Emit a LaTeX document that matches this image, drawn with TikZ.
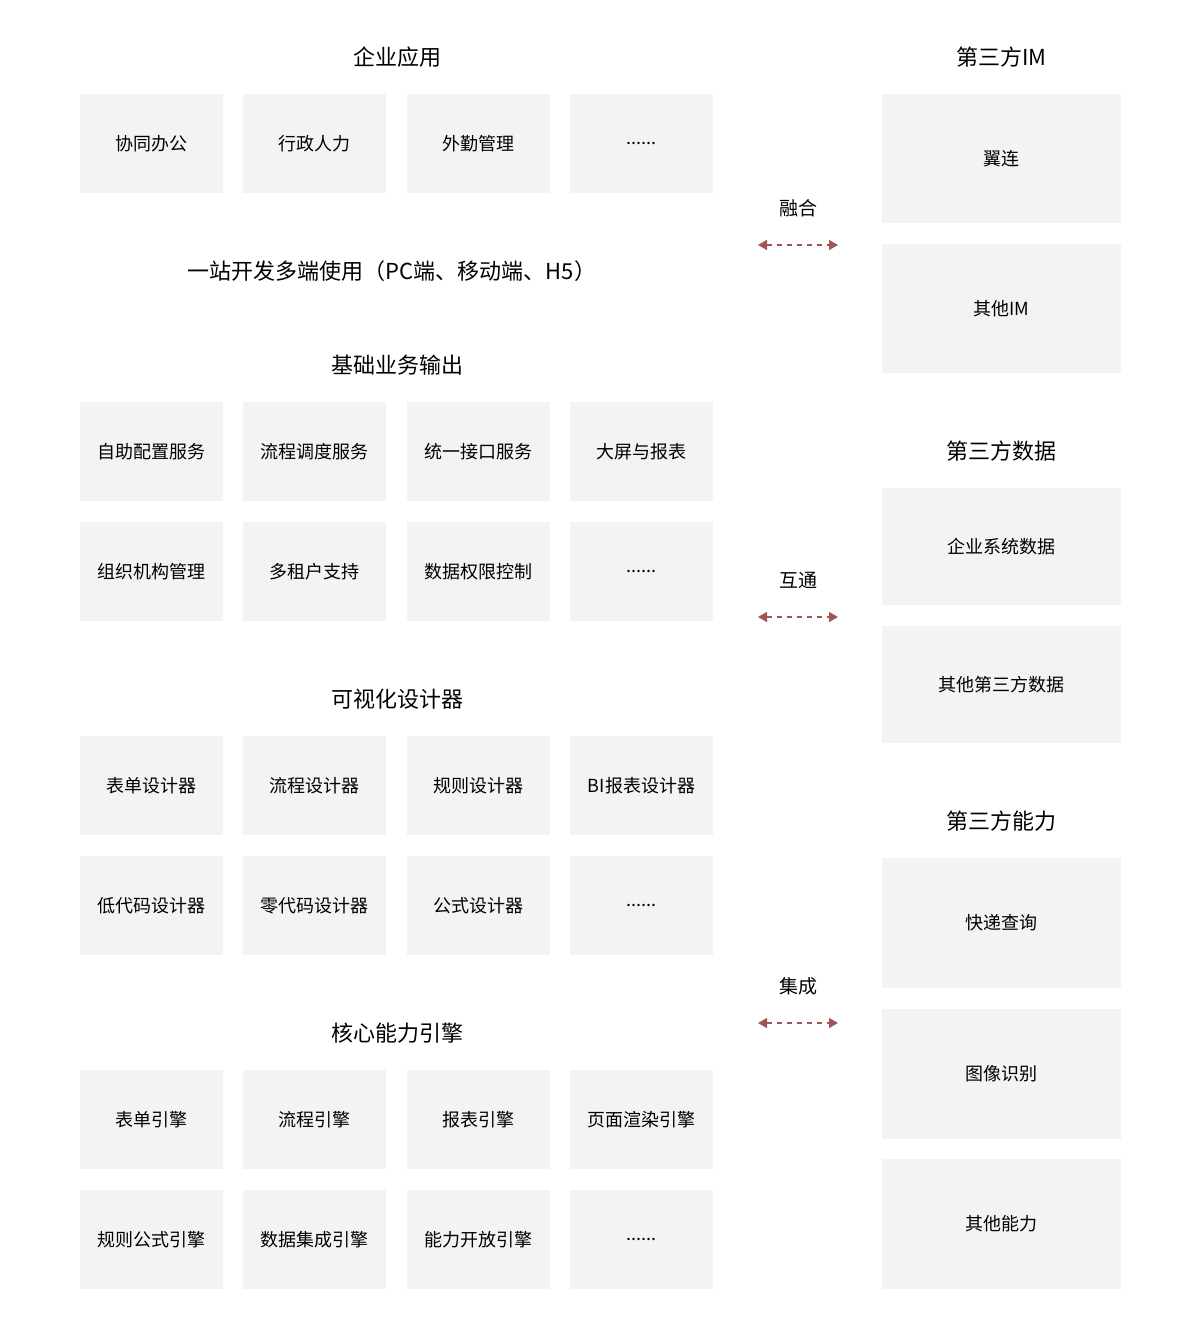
\documentclass[tikz,border=0pt]{standalone}
\usepackage{fontspec}
\setmainfont{Noto Sans CJK SC}
\usetikzlibrary{arrows.meta}
\definecolor{boxc}{HTML}{F3F3F3}
\definecolor{arrc}{HTML}{A05656}
\begin{document}
\begin{tikzpicture}[x=0.5pt,y=-0.5pt,
  bx/.style={fill=boxc,draw=none,inner sep=0pt,font=\fontsize{9}{11}\selectfont},
  ttl/.style={font=\fontsize{11}{13}\selectfont,inner sep=0pt},
  lbl/.style={font=\fontsize{9.5}{11}\selectfont,inner sep=0pt},
  arr/.style={arrc,line width=0.7pt,dash pattern=on 2.5pt off 2.5pt,{Triangle[width=5pt,length=4.5pt]}-{Triangle[width=5pt,length=4.5pt]}}]
\useasboundingbox (0,0) rectangle (1200,1330);
\newcommand{\lb}[4]{\node[bx,minimum width=71.5pt,minimum height=49.5pt] (#1) at (#2,#3) {#4};}
\newcommand{\rb}[4]{\node[bx,minimum width=119.5pt,minimum height=#3] (#1) at (1001.5,#2) {#4};}
% titles
\node[ttl] (t1) at (397,57) {企业应用};
\node[ttl] (t2) at (392,271) {一站开发多端使用（PC端、移动端、H5）};
\node[ttl] (t3) at (397,365) {基础业务输出};
\node[ttl] (t4) at (397,699) {可视化设计器};
\node[ttl] (t5) at (397,1033) {核心能力引擎};
\node[ttl] (r1) at (1001.5,57) {第三方IM};
\node[ttl] (r2) at (1001.5,451) {第三方数据};
\node[ttl] (r3) at (1001.5,821) {第三方能力};
% left boxes
\lb{a1}{151.5}{143.5}{协同办公}
\lb{a2}{314.5}{143.5}{行政人力}
\lb{a3}{478.5}{143.5}{外勤管理}
\lb{a4}{641.5}{143.5}{......}
\lb{b1}{151.5}{451.5}{自助配置服务}
\lb{b2}{314.5}{451.5}{流程调度服务}
\lb{b3}{478.5}{451.5}{统一接口服务}
\lb{b4}{641.5}{451.5}{大屏与报表}
\lb{b5}{151.5}{571.5}{组织机构管理}
\lb{b6}{314.5}{571.5}{多租户支持}
\lb{b7}{478.5}{571.5}{数据权限控制}
\lb{b8}{641.5}{571.5}{......}
\lb{c1}{151.5}{785.5}{表单设计器}
\lb{c2}{314.5}{785.5}{流程设计器}
\lb{c3}{478.5}{785.5}{规则设计器}
\lb{c4}{641.5}{785.5}{BI报表设计器}
\lb{c5}{151.5}{905.5}{低代码设计器}
\lb{c6}{314.5}{905.5}{零代码设计器}
\lb{c7}{478.5}{905.5}{公式设计器}
\lb{c8}{641.5}{905.5}{......}
\lb{d1}{151.5}{1119.5}{表单引擎}
\lb{d2}{314.5}{1119.5}{流程引擎}
\lb{d3}{478.5}{1119.5}{报表引擎}
\lb{d4}{641.5}{1119.5}{页面渲染引擎}
\lb{d5}{151.5}{1239.5}{规则公式引擎}
\lb{d6}{314.5}{1239.5}{数据集成引擎}
\lb{d7}{478.5}{1239.5}{能力开放引擎}
\lb{d8}{641.5}{1239.5}{......}
% right boxes
\rb{e1}{158.5}{64.5pt}{翼连}
\rb{e2}{308.5}{64.5pt}{其他IM}
\rb{f1}{546.5}{58.5pt}{企业系统数据}
\rb{f2}{684.5}{58.5pt}{其他第三方数据}
\rb{g1}{923}{65pt}{快递查询}
\rb{g2}{1073.5}{65pt}{图像识别}
\rb{g3}{1224}{65pt}{其他能力}
% arrows
\foreach \n/\y/\t in {h1/245/融合,h2/617/互通,h3/1023/集成}{
  \coordinate (\n l) at (758,\y);
  \coordinate (\n r) at (838,\y);
  \draw[arr] (\n l) -- (\n r);
  \node[lbl] (\n t) at (798,\y-37) {\t};
}
\end{tikzpicture}
\end{document}
